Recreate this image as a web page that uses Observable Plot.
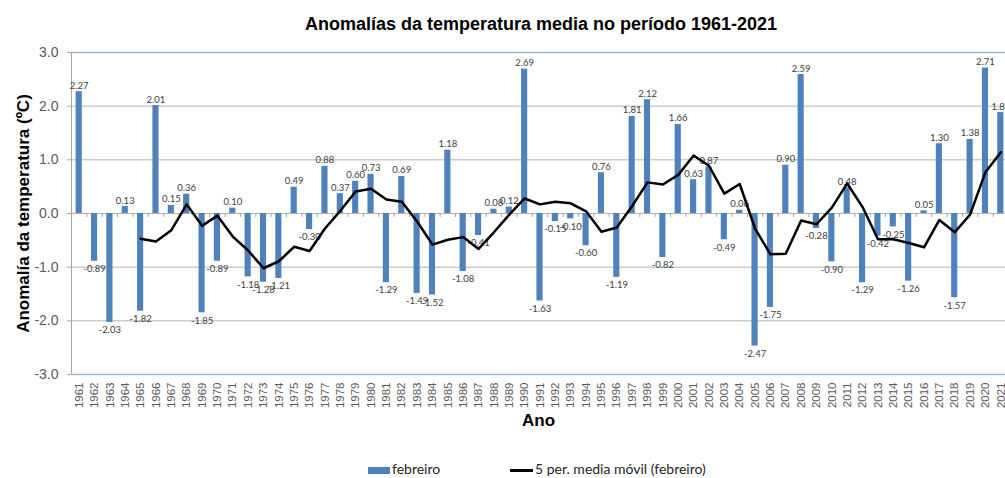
<!DOCTYPE html>
<html><head><meta charset="utf-8">
<script src="https://cdn.jsdelivr.net/npm/d3@7"></script>
<script src="https://cdn.jsdelivr.net/npm/@observablehq/plot@0.6"></script>
<style>
body{margin:0;background:#fff;overflow:hidden;}
#wrap{position:relative;width:1005px;height:478px;overflow:hidden;}
#title{position:absolute;left:0;top:14px;width:1082px;text-align:center;font:bold 18px "Liberation Sans",Arial,sans-serif;line-height:20px;color:#000;}
#chart{position:absolute;left:0;top:40px;}
#legend{position:absolute;left:0;top:459px;width:1005px;height:20px;font:14px Lato,"Open Sans",sans-serif;color:#262626;}
.li{position:absolute;top:0;line-height:20px;white-space:nowrap;}
.sw{display:inline-block;vertical-align:middle;margin-right:2px;}
</style></head>
<body><div id="wrap">
<div id="title">Anomalías da temperatura media no período 1961-2021</div>
<div id="chart"></div>
<div id="legend">
 <span class="li" style="left:368px"><span class="sw" style="width:22px;height:7px;background:#4F81BD"></span>febreiro</span>
 <span class="li" style="left:510px"><span class="sw" style="width:23px;height:3px;background:#000"></span>5 per. media móvil (febreiro)</span>
</div>
</div>
<script>
const years = ["1961","1962","1963","1964","1965","1966","1967","1968","1969","1970","1971","1972","1973","1974","1975","1976","1977","1978","1979","1980","1981","1982","1983","1984","1985","1986","1987","1988","1989","1990","1991","1992","1993","1994","1995","1996","1997","1998","1999","2000","2001","2002","2003","2004","2005","2006","2007","2008","2009","2010","2011","2012","2013","2014","2015","2016","2017","2018","2019","2020","2021"];
const febreiro = [2.27,-0.89,-2.03,0.13,-1.82,2.01,0.15,0.36,-1.85,-0.89,0.10,-1.18,-1.28,-1.21,0.49,-0.30,0.88,0.37,0.60,0.73,-1.29,0.69,-1.49,-1.52,1.18,-1.08,-0.41,0.08,0.12,2.69,-1.63,-0.15,-0.10,-0.60,0.76,-1.19,1.81,2.12,-0.82,1.66,0.63,0.87,-0.49,0.06,-2.47,-1.75,0.90,2.59,-0.28,-0.90,0.48,-1.29,-0.42,-0.25,-1.26,0.05,1.30,-1.57,1.38,2.71,1.88];
const mediaMovilYears = years.slice(4);
const mediaMovil = [-0.47,-0.52,-0.31,0.17,-0.23,-0.04,-0.43,-0.69,-1.02,-0.89,-0.62,-0.70,-0.28,0.05,0.41,0.46,0.26,0.22,-0.15,-0.58,-0.49,-0.44,-0.66,-0.35,-0.02,0.28,0.17,0.22,0.19,0.04,-0.34,-0.26,0.14,0.58,0.54,0.72,1.08,0.89,0.37,0.55,-0.28,-0.76,-0.75,-0.13,-0.20,0.11,0.56,0.12,-0.48,-0.48,-0.55,-0.63,-0.12,-0.35,-0.02,0.77,1.14];
const yTicks = [-3,-2,-1,0,1,2,3];

const bars = years.map((y,i)=>({year:y, value:febreiro[i]}));
const ma = mediaMovilYears.map((y,i)=>({year:y, value:mediaMovil[i]}));
const pos = bars.filter(d=>d.value>=0), neg = bars.filter(d=>d.value<0);

const chart = Plot.plot({
  width: 1005, height: 400,
  marginTop: 12, marginBottom: 66, marginLeft: 71, marginRight: 0,
  style: {fontFamily: '"Liberation Sans", Arial, sans-serif', background: "#fff", color: "#595959"},
  x: {type: "band", domain: years, range: [71, 1008], paddingInner: 0.6, paddingOuter: 0.3, round: false},
  y: {domain: [-3, 3]},
  marks: [
    Plot.ruleY(yTicks.filter(t=>t>-3 && t<3), {y: d=>d, stroke: "#b3b3b3", strokeWidth: 1}),
    Plot.ruleY([-3, 3], {y: d=>d, stroke: "#9bb7d9", strokeWidth: 1.5}),
    Plot.ruleX([years[0]], {x: d=>d, dx: -7.68, stroke: "#a6a6a6"}),
    Plot.ruleX(years, {x: d=>d, y1: 0, y2: 0, dx: -7.68, insetBottom: -4, stroke: "#a6a6a6"}),
    Plot.axisY({ticks: yTicks, tickFormat: d=>d.toFixed(1), tickSize: 4, tickPadding: 9, fontSize: 14, stroke: "#a6a6a6", fill: "#595959", label: null}),
    Plot.axisX({tickRotate: -90, tickSize: 0, tickPadding: 8, fontSize: 11.5, fill: "#595959", label: null}),
    Plot.barY(bars, {x: "year", y: "value", fill: "#4F81BD"}),
    Plot.text(pos, {x: "year", y: "value", text: d=>d.value.toFixed(2), lineAnchor: "bottom", dy: -3, fontSize: 9.5, fontFamily: "Lato, 'Open Sans', sans-serif", fill: "#404040"}),
    Plot.text(neg, {x: "year", y: "value", text: d=>d.value.toFixed(2), lineAnchor: "top", dy: 4, fontSize: 9.5, fontFamily: "Lato, 'Open Sans', sans-serif", fill: "#404040"}),
    Plot.line(ma, {x: "year", y: "value", stroke: "#000", strokeWidth: 2.5}),
    Plot.text(["Anomalía da temperatura (ºC)"], {frameAnchor: "left", textAnchor: "middle", rotate: -90, dx: -48, fontSize: 17, fontWeight: "bold", fill: "#000"}),
    Plot.text(["Ano"], {frameAnchor: "bottom", dy: 51, fontSize: 17, fontWeight: "bold", fill: "#000"})
  ]
});
document.getElementById("chart").appendChild(chart);
</script>
</body></html>
